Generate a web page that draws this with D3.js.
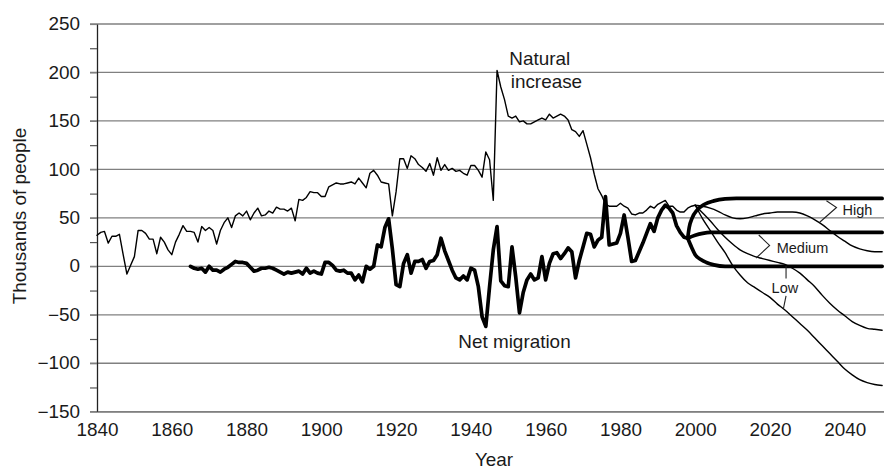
<!DOCTYPE html>
<html><head><meta charset="utf-8">
<script src="https://cdn.jsdelivr.net/npm/d3@7"></script>
<style>
html,body{margin:0;padding:0;background:#fff;}
svg{display:block;}
text{font-family:'Liberation Sans',Arial,Helvetica,sans-serif;fill:#1a1a1a;}
</style></head><body>
<svg id="chart" width="884" height="470"></svg>
<script>
// ---------- DATA ----------
const niStart = 1840;
const naturalIncrease = [
  32, 35, 36, 24, 31, 31, 33, 12, -8, 1,        // 1840-1849
  10, 37, 37, 34, 28, 28, 13, 30, 25, 17,       // 1850-1859
  12, 25, 33, 42, 36, 36, 35, 25, 41, 37,       // 1860-1869
  40, 37, 23, 37, 45, 50, 40, 52, 55, 52,       // 1870-1879
  57, 48, 55, 60, 52, 53, 57, 55, 61, 59,       // 1880-1889
  59, 57, 60, 47, 69, 68, 71, 77, 76, 76,       // 1890-1899
  72, 72, 82, 84, 86, 85, 85, 86, 87, 85,       // 1900-1909
  91, 86, 81, 96, 99, 94, 87, 86, 85, 52,       // 1910-1919
  77, 111, 111, 101, 114, 111, 105, 102, 98, 106, // 1920-1929
  94, 112, 99, 105, 99, 101, 98, 99, 96, 94,    // 1930-1939
  104, 104, 99, 92, 118, 110, 68, 202, 185, 172, // 1940-1949
  155, 153, 155, 149, 150, 147, 147, 149, 151, 153, // 1950-1959
  151, 157, 153, 155, 157, 155, 151, 141, 139, 134, // 1960-1969
  140, 126, 112, 95, 80, 73, 64, 62, 62, 62,    // 1970-1979
  65, 62, 60, 54, 53, 55, 55, 58, 62, 60,       // 1980-1989
  64, 66, 68, 62, 62, 58, 56, 56, 60, 62,       // 1990-1999
  63                                            // 2000
];
const migStart = 1865;
const netMigration = [
  0, -2, -3, -2, -6,                            // 1865-1869
  0, -4, -4, -6, -3, -1, 2, 5, 4, 4,            // 1870-1879
  3, -1, -5, -4, -2, -2, -1, -2, -4, -6,        // 1880-1889
  -8, -6, -7, -6, -5, -8, -2, -7, -5, -7,       // 1890-1899
  -8, 4, 4, 1, -4, -5, -4, -7, -7, -14,         // 1900-1909
  -9, -16, 0, -3, 0, 22, 20, 40, 49, 18,        // 1910-1919
  -19, -21, 3, 12, -7, 5, 5, 7, -2, 5,          // 1920-1929
  6, 12, 29, 16, 6, -4, -12, -14, -10, -14,     // 1930-1939
  -2, -4, -21, -52, -62, -21, 17, 41, -15, -20, // 1940-1949
  -21, 20, -11, -48, -27, -14, -8, -14, -12, 10, // 1950-1959
  -14, 3, 13, 14, 8, 13, 19, 15, -12, 6,        // 1960-1969
  20, 34, 33, 20, 27, 30, 72, 22, 23, 24,       // 1970-1979
  34, 53, 30, 5, 6, 15, 24, 34, 44, 36,         // 1980-1989
  50, 58, 63, 60, 55, 42, 35, 30, 29            // 1990-1998
];
// projections of natural increase (thin lines)
const projYears = [2000, 2002, 2004, 2006, 2008, 2010, 2012, 2014, 2016, 2018, 2020, 2022, 2024,
                   2026, 2028, 2030, 2032, 2034, 2036, 2038, 2040, 2042, 2044, 2046, 2048, 2050];
const niHigh   = [63, 62, 60, 57, 53, 50, 49, 50, 52, 54, 55, 56, 56, 56, 55, 52, 48, 43, 37, 31, 26, 21, 18, 16, 15, 15];
const niMedium = [63, 55, 47, 38, 30, 23, 17, 13, 10, 8, 6, 4, 2, -2, -7, -14, -21, -30, -38, -45, -51, -57, -61, -64, -65, -66];
const niLow    = [63, 49, 37, 25, 14, 1, -9, -17, -22, -27, -32, -39, -45, -52, -59, -66, -74, -82, -90, -98, -106, -112, -117, -120, -122, -123];
// projections of net migration (thick lines)
const migHighYears = [1998, 1998.4, 1999.2, 2000.5, 2002.5, 2005, 2008, 2011, 2050];
const migHigh      = [29, 40, 50, 58, 64, 67.5, 69.5, 70, 70];
const migMedYears  = [1998, 2000, 2002, 2004, 2007, 2050];
const migMedium    = [29, 32, 34, 35, 35, 35];
const migLowYears  = [1998, 1999, 2000, 2001.5, 2003, 2005, 2008, 2050];
const migLow       = [29, 20, 12, 7, 4, 1.5, 0, 0];

const yTicks = [-150, -100, -50, 0, 50, 100, 150, 200, 250];
const yAllTicks = [-150, -125, -100, -75, -50, -25, 0, 25, 50, 75, 100, 125, 150, 175, 200, 225, 250];
const xTicks = [1840, 1860, 1880, 1900, 1920, 1940, 1960, 1980, 2000, 2020, 2040];

// ---------- CHART ----------
const svg = d3.select("#chart");
const x = d3.scaleLinear().domain([1840, 2050.5]).range([97, 884]);
const y = d3.scaleLinear().domain([-150, 250]).range([411.7, 24]);
const SX = 1.08;
const fmt = d3.format("d");

// gridlines
svg.append("g").selectAll("line").data(yTicks).join("line")
  .attr("x1", x(1840) - 7).attr("x2", 884)
  .attr("y1", d => y(d)).attr("y2", d => y(d))
  .attr("stroke", "#808080").attr("stroke-width", 1.3);

// y axis
const gy = svg.append("g").attr("transform", `translate(${x(1840)},0)`)
  .call(d3.axisLeft(y).tickValues(yAllTicks).tickSize(7).tickSizeOuter(0).tickPadding(8.7)
        .tickFormat(d => d % 50 === 0 ? fmt(d) : ""));
gy.select(".domain").attr("stroke", "#222").attr("stroke-width", 1.3);
gy.selectAll(".tick line").attr("stroke", d => d % 50 === 0 ? "#808080" : "#555").attr("stroke-width", 1.2);
gy.selectAll(".tick text").attr("transform", `scale(${SX},1)`)
  .style("font-size", "17.5px").attr("fill", "#1a1a1a");

// x axis
const gx = svg.append("g").attr("transform", `translate(0,${y(-150)})`)
  .call(d3.axisBottom(x).tickValues(xTicks).tickSize(0).tickSizeOuter(0).tickPadding(12).tickFormat(fmt));
gx.select(".domain").attr("stroke", "#808080").attr("stroke-width", 1.3);
gx.selectAll(".tick text").attr("transform", `scale(${SX},1)`)
  .style("font-size", "17.5px").attr("fill", "#1a1a1a");

// lines
const line = d3.line().x(d => x(d[0])).y(d => y(d[1]));
const smooth = d3.line().x(d => x(d[0])).y(d => y(d[1])).curve(d3.curveMonotoneX);

const niData = naturalIncrease.map((v, i) => [niStart + i, v]);
const migData = netMigration.map((v, i) => [migStart + i, v]);
const zip = (xs, vs) => xs.map((t, i) => [t, vs[i]]);

const thin = 1.4, thick = 3.7;
const lines = svg.append("g").attr("fill", "none").attr("stroke", "#000")
  .attr("stroke-linejoin", "round").attr("stroke-linecap", "round");

[niHigh, niMedium, niLow].forEach(s =>
  lines.append("path").attr("d", smooth(zip(projYears, s))).attr("stroke-width", thin));
lines.append("path").attr("d", line(niData)).attr("stroke-width", thin);

[[migHighYears, migHigh], [migMedYears, migMedium], [migLowYears, migLow]].forEach(([t, s]) =>
  lines.append("path").attr("d", smooth(zip(t, s))).attr("stroke-width", thick));
lines.append("path").attr("d", line(migData)).attr("stroke-width", thick);

// leader lines for projection labels (in data coordinates)
const leaders = [
  [[2035.1, 67.6], [2037.8, 60.7], [2033.3, 45.5]],
  [[2017.0, 32.3], [2019.9, 21.5], [2016.3, 8.6]],
  [[2024.3, 0.3], [2024.3, -12.6]],
  [[2024.3, -30.6], [2023.6, -43.6]]
];
svg.append("g").attr("fill", "none").attr("stroke", "#222").attr("stroke-width", 1.1)
  .selectAll("path").data(leaders).join("path").attr("d", d => line(d));

// projection labels
const projLabels = [
  {t: "High", yr: 2039.4, v: 58.5, anchor: "start"},
  {t: "Medium", yr: 2021.8, v: 18.9, anchor: "start"},
  {t: "Low", yr: 2024.0, v: -21.7, anchor: "middle"}
];
svg.append("g").selectAll("text").data(projLabels).join("text")
  .attr("x", d => x(d.yr)).attr("y", d => y(d.v)).attr("dy", "0.36em")
  .attr("text-anchor", d => d.anchor).style("font-size", "14.5px").text(d => d.t);

// main labels
function label(str, px, py, anchor, rot) {
  svg.append("text")
    .attr("transform", `translate(${px},${py})${rot ? " rotate(" + rot + ")" : ""} scale(${SX},1)`)
    .attr("text-anchor", anchor).style("font-size", "17.5px").text(str);
}
label("Natural", 509.3, 65, "start");
label("increase", 510.7, 88.3, "start");
label("Net migration", 458.3, 348.3, "start");
label("Thousands of people", 26, 216, "middle", -90);
label("Year", 494, 465.5, "middle");
</script>
</body></html>
